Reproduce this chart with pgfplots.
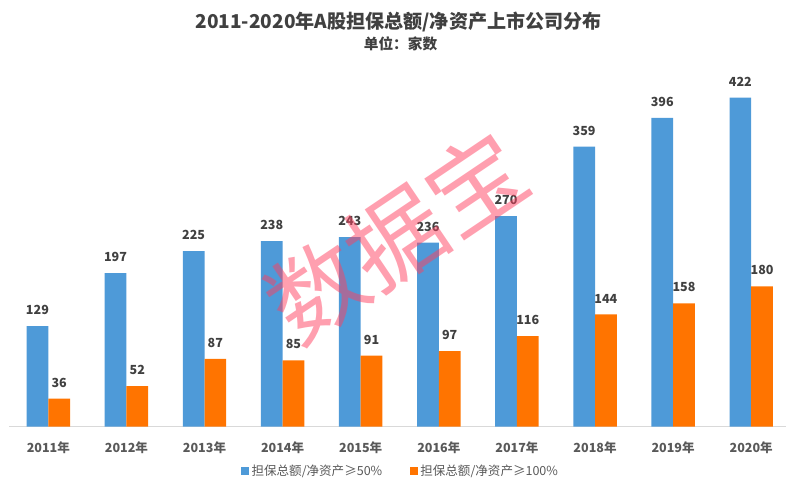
\documentclass[border=0pt]{standalone}
\usepackage{pgfplots}
\pgfplotsset{compat=1.18}
\usepackage{fontspec}
\setmainfont{Noto Sans CJK SC}
\definecolor{barblue}{HTML}{4E9AD8}
\definecolor{barorange}{HTML}{FF7400}
\definecolor{txtdark}{HTML}{404040}
\definecolor{txtgray}{HTML}{595959}
\definecolor{wmpink}{HTML}{FF4060}
\begin{document}
\begin{tikzpicture}
  \useasboundingbox (0,0) rectangle (589.5pt,368.25pt);
  \node[font=\bfseries\fontsize{14.3pt}{16pt}\selectfont, text=txtdark] at (298.9pt,352pt) {2011-2020年A股担保总额/净资产上市公司分布};
  \node[font=\bfseries\fontsize{11pt}{13pt}\selectfont, text=txtdark] at (300.4pt,335pt) {单位：家数};
  \begin{axis}[
      at={(6.94pt,48.2pt)}, anchor=south west,
      scale only axis,
      width=582.6pt, height=275pt,
      ybar=0pt,
      bar width=16.3pt,
      ymin=0, ymax=470,
      xmin=-0.5, xmax=9.446,
      axis x line*=bottom,
      axis y line=none,
      x axis line style={draw=black!15, line width=0.8pt},
      xtick={0,...,9},
      xticklabels={2011年,2012年,2013年,2014年,2015年,2016年,2017年,2018年,2019年,2020年},
      xtick style={draw=none},
      xticklabel style={font=\bfseries\fontsize{9.4pt}{11pt}\selectfont, text=txtgray, anchor=base, yshift=-15pt},
      /pgf/number format/assume math mode=true,
      nodes near coords,
      every node near coord/.append style={font=\bfseries\fontsize{9.4pt}{11pt}\selectfont, text=txtdark, anchor=south, inner sep=0pt, yshift=8.3pt},
      legend style={draw=none, fill=none, at={(0.5044,-0.1208)}, anchor=center,
        legend columns=-1, font=\fontsize{9.4pt}{11pt}\selectfont, text=txtgray,
        /tikz/every even column/.append style={column sep=19pt}},
      legend image code/.code={\fill[#1] (0pt,-2.8pt) rectangle (5.6pt,2.8pt);},
    ]
    \addplot[fill=barblue, draw=none] coordinates {
      (0,129) (1,197) (2,225) (3,238) (4,243) (5,236) (6,270) (7,359) (8,396) (9,422)
    };
    \addplot[fill=barorange, draw=none] coordinates {
      (0,36) (1,52) (2,87) (3,85) (4,91) (5,97) (6,116) (7,144) (8,158) (9,180)
    };
    \legend{担保总额/净资产≥50\%, 担保总额/净资产≥100\%}
  \end{axis}
  \node[rotate=34, text=wmpink, opacity=0.5, font=\fontsize{72pt}{78pt}\selectfont] at (297pt,190.5pt) {数据宝};
\end{tikzpicture}
\end{document}
